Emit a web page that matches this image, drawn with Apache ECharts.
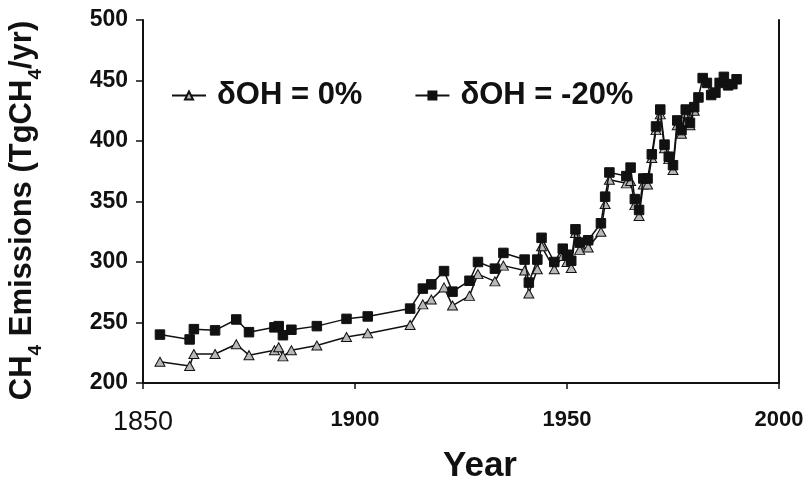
<!DOCTYPE html>
<html>
<head>
<meta charset="utf-8">
<script src="https://cdn.jsdelivr.net/npm/echarts@6/dist/echarts.min.js"></script>
<style>
  html, body { margin: 0; padding: 0; background: #fff; }
  #chart { width: 811px; height: 484px; }
</style>
</head>
<body>
<div id="chart"></div>
<script>
// Methane emissions inferred for two OH scenarios (Tg CH4 per year)
const yearsBase = [1854, 1861, 1862, 1867, 1872, 1875, 1881, 1882, 1883, 1885, 1891, 1898, 1903,
  1913, 1916, 1918, 1921, 1923, 1927, 1929, 1933, 1935, 1940, 1941, 1943, 1944, 1947, 1949, 1950,
  1951, 1952, 1953, 1955, 1958, 1959, 1960, 1964, 1965, 1966, 1967, 1968, 1969, 1970, 1971, 1972,
  1973, 1974, 1975, 1976, 1977, 1978, 1979, 1980];
const emisOH0 = [217.5, 214, 224, 224, 232, 223, 227, 229.5, 222, 227, 231, 238, 241,
  248, 265, 269, 279, 264, 272, 290, 284, 297, 293, 274, 294, 313, 294, 305, 300,
  295, 324, 310, 312, 325, 348, 368, 365, 367, 347, 338, 364, 364, 386, 409, 422,
  394, 385, 376, 413, 406, 423, 413, 425];

const yearsLow = [1854, 1861, 1862, 1867, 1872, 1875, 1881, 1882, 1883, 1885, 1891, 1898, 1903,
  1913, 1916, 1918, 1921, 1923, 1927, 1929, 1933, 1935, 1940, 1941, 1943, 1944, 1947, 1949, 1950,
  1951, 1952, 1953, 1955, 1958, 1959, 1960, 1964, 1965, 1966, 1967, 1968, 1969, 1970, 1971, 1972,
  1973, 1974, 1975, 1976, 1977, 1978, 1979, 1980, 1981, 1982, 1983, 1984, 1985, 1986, 1987, 1988,
  1989, 1990];
const emisOHm20 = [240, 236, 244.5, 243.5, 252.5, 242, 246, 247, 239.5, 244, 247, 253, 255,
  261.5, 278, 281.5, 292.5, 275.5, 284.5, 300, 294.5, 307.5, 302, 283, 302, 320, 300, 311, 306,
  301, 327, 316, 318, 332, 354, 374, 371, 378, 352, 343, 369, 369, 389, 412, 426,
  397, 387, 380, 417, 409, 426, 415, 428, 436, 452, 448, 438, 440, 448, 453, 446,
  447, 451];

const seriesNames = ['\u03b4OH = 0%', '\u03b4OH = -20%'];
const xTicks = [1850, 1900, 1950, 2000];
const yTicks = [200, 250, 300, 350, 400, 450, 500];

const FONT = '"Liberation Sans", Arial, sans-serif';

const pair = (xs, ys) => xs.map((x, i) => [x, ys[i]]);

const chart = echarts.init(document.getElementById('chart'), null, { renderer: 'canvas' });

chart.setOption({
  animation: false,
  backgroundColor: '#ffffff',
  grid: { left: 143, right: 32, top: 20, bottom: 101, containLabel: false, outerBoundsMode: 'none' },
  legend: {
    data: seriesNames,
    left: 166,
    top: 75,
    itemWidth: 34,
    itemHeight: 10,
    itemGap: 52,
    textStyle: { fontFamily: FONT, fontWeight: 'bold', fontSize: 31, color: '#111', padding: [0, 0, 0, 6] }
  },
  xAxis: {
    type: 'value',
    min: xTicks[0],
    max: xTicks[xTicks.length - 1],
    interval: 50,
    name: 'Year',
    nameLocation: 'middle',
    nameGap: 66,
    nameTextStyle: { fontFamily: FONT, fontWeight: 'bold', fontSize: 35, color: '#111', padding: [0, 0, 0, 38] },
    axisLine: { show: true, lineStyle: { color: '#111', width: 2 } },
    axisTick: { show: true, inside: false, length: 6, lineStyle: { color: '#111', width: 1.5 } },
    splitLine: { show: false },
    axisLabel: {
      margin: 26,
      showMinLabel: true,
      showMaxLabel: true,
      formatter: v => (v === xTicks[0] ? '{r|' + v + '}' : '{b|' + v + '}'),
      rich: {
        r: { fontFamily: FONT, fontSize: 27, fontWeight: 'normal', color: '#111' },
        b: { fontFamily: FONT, fontSize: 22, fontWeight: 'bold', color: '#111' }
      }
    }
  },
  yAxis: [{
    type: 'value',
    min: yTicks[0],
    max: yTicks[yTicks.length - 1],
    interval: 50,
    name: '{m|CH}{s|4}{m| Emissions (TgCH}{s|4}{m|/yr)}',
    nameLocation: 'middle',
    nameGap: 96,
    nameRotate: 90,
    nameTextStyle: {
      padding: [0, 18, 0, 0],
      rich: {
        m: { fontFamily: FONT, fontWeight: 'bold', fontSize: 31, color: '#111', lineHeight: 40, verticalAlign: 'top' },
        s: { fontFamily: FONT, fontWeight: 'bold', fontSize: 19, color: '#111', lineHeight: 40, verticalAlign: 'bottom', padding: [0, 0, 2, 0] }
      }
    },
    axisLine: { show: true, lineStyle: { color: '#111', width: 2 } },
    axisTick: { show: true, inside: false, length: 7, lineStyle: { color: '#111', width: 1.5 } },
    splitLine: { show: false },
    axisLabel: { margin: 15, fontFamily: FONT, fontWeight: 'bold', fontSize: 23, color: '#111' }
  }, {
    type: 'value',
    position: 'right',
    min: yTicks[0],
    max: yTicks[yTicks.length - 1],
    interval: 50,
    axisLine: { show: true, lineStyle: { color: '#111', width: 2 } },
    axisTick: { show: false },
    axisLabel: { show: false },
    splitLine: { show: false }
  }],
  series: [{
    name: seriesNames[0],
    type: 'line',
    data: pair(yearsBase, emisOH0),
    symbol: 'triangle',
    symbolSize: [10, 9],
    z: 2,
    lineStyle: { color: '#111', width: 1.5 },
    itemStyle: { color: '#b8b8b8', borderColor: '#111', borderWidth: 1 }
  }, {
    name: seriesNames[1],
    type: 'line',
    data: pair(yearsLow, emisOHm20),
    symbol: 'rect',
    symbolSize: 9.5,
    z: 3,
    lineStyle: { color: '#111', width: 1.5 },
    itemStyle: { color: '#111', borderColor: '#111', borderWidth: 1 }
  }]
});
</script>
</body>
</html>
